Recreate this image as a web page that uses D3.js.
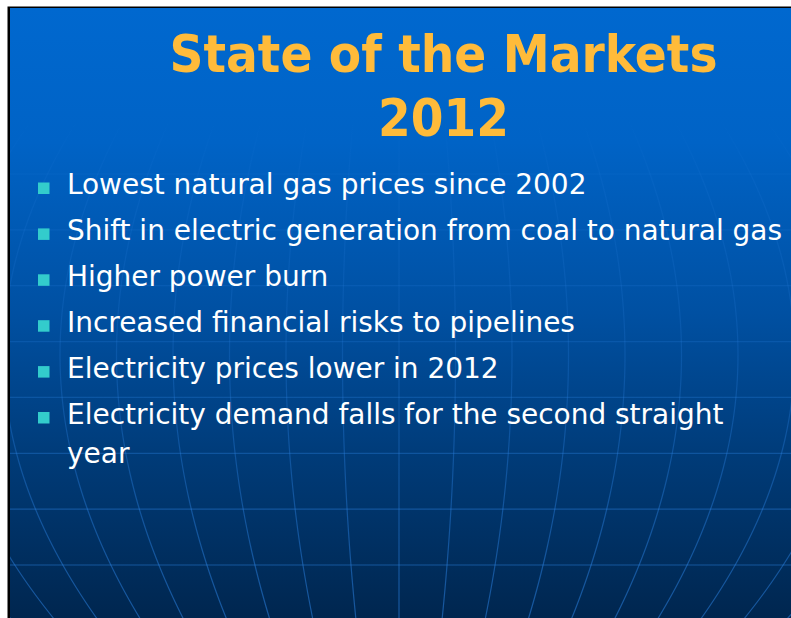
<!DOCTYPE html>
<html>
<head>
<meta charset="utf-8">
<script src="https://cdn.jsdelivr.net/npm/d3@7"></script>
<style>
  body { margin: 0; background: #fff; }
  svg { display: block; }
</style>
</head>
<body>
<div id="slide"></div>
<script>
// Slide text
const titleLines = ["State of the Markets", "2012"];
const bulletLines = [
  "Lowest natural gas prices since 2002",
  "Shift in electric generation from coal to natural gas",
  "Higher power burn",
  "Increased financial risks to pipelines",
  "Electricity prices lower in 2012",
  "Electricity demand falls for the second straight",
  "year"
];
// true = line starts a new bullet, false = wrapped continuation
const bulletStarts = [true, true, true, true, true, true, false];

// Background globe grid: meridian indices and horizontal rule rows
const meridians = d3.range(-9, 10);
const rules = d3.range(0, 8);

const width = 791, height = 618;
const slide = {x: 10, y: 8};

const svg = d3.select("#slide").append("svg")
    .attr("width", width)
    .attr("height", height);

const defs = svg.append("defs");

const bg = defs.append("linearGradient")
    .attr("id", "bg")
    .attr("gradientUnits", "userSpaceOnUse")
    .attr("x1", 0).attr("y1", slide.y).attr("x2", 0).attr("y2", height);
bg.selectAll("stop")
  .data([
    [0, "#0068cf"], [0.22, "#0063c6"], [0.5, "#0050a2"],
    [0.75, "#003a76"], [1, "#00264f"]
  ])
  .join("stop")
    .attr("offset", d => d[0])
    .attr("stop-color", d => d[1]);

const gridFade = defs.append("linearGradient")
    .attr("id", "gridFade")
    .attr("gradientUnits", "userSpaceOnUse")
    .attr("x1", 0).attr("y1", 120).attr("x2", 0).attr("y2", height);
gridFade.selectAll("stop")
  .data([[0, 0], [0.12, 0.12], [0.4, 0.2], [0.7, 0.38], [1, 0.55]])
  .join("stop")
    .attr("offset", d => d[0])
    .attr("stop-color", "#2a80e0")
    .attr("stop-opacity", d => d[1]);

defs.append("clipPath").attr("id", "slideClip")
  .append("rect")
    .attr("x", slide.x).attr("y", slide.y)
    .attr("width", width - slide.x).attr("height", height - slide.y);

// frame + background
svg.append("rect")
    .attr("x", 7.5).attr("y", 6.5)
    .attr("width", width).attr("height", height)
    .attr("fill", "#000");
svg.append("rect")
    .attr("x", slide.x).attr("y", slide.y)
    .attr("width", width - slide.x).attr("height", height - slide.y)
    .attr("fill", "url(#bg)");

const grid = svg.append("g").attr("clip-path", "url(#slideClip)");

// horizontal rules
const ruleY = d3.scaleLinear().domain([0, 7]).range([174, 565]);
grid.selectAll("line.rule")
  .data(rules)
  .join("line")
    .attr("class", "rule")
    .attr("x1", slide.x).attr("x2", width)
    .attr("y1", d => ruleY(d)).attr("y2", d => ruleY(d))
    .attr("stroke", "url(#gridFade)")
    .attr("stroke-width", 1.2);

// meridians bulging around y=355, converging toward the bottom
const cx = 399;
const meridianX = d3.scaleLinear().domain([0, 1]).range([0, 56.5]);
const squeeze = y => 1 - 3.4e-6 * (y - 355) * (y - 355);
const ys = d3.range(120, height + 8, 6);
const meridianLine = d3.line()
    .x(d => d.x).y(d => d.y)
    .curve(d3.curveBasis);

grid.selectAll("path.meridian")
  .data(meridians)
  .join("path")
    .attr("class", "meridian")
    .attr("d", k => meridianLine(ys.map(y => ({x: cx + meridianX(k) * squeeze(y), y}))))
    .attr("fill", "none")
    .attr("stroke", "url(#gridFade)")
    .attr("stroke-width", 1.2);

// title
const titleY = d3.scaleLinear().domain([0, 1]).range([71.5, 135.5]);
const titleWidths = [548, 131];
svg.selectAll("text.title")
  .data(titleLines)
  .join("text")
    .attr("class", "title")
    .attr("x", 443.5)
    .attr("y", (d, i) => titleY(i))
    .attr("text-anchor", "middle")
    .attr("font-family", "'DejaVu Sans Condensed', 'DejaVu Sans', sans-serif")
    .attr("font-weight", "bold")
    .attr("font-size", 52)
    .attr("fill", "#ffbb3a")
    .text(d => d)
    .attr("textLength", (d, i) => titleWidths[i])
    .attr("lengthAdjust", "spacingAndGlyphs");

// bullets
const itemIndex = [];
let item = -1;
bulletStarts.forEach(s => { if (s) item++; itemIndex.push(item); });
const itemY = d3.scaleLinear().domain([0, 5]).range([194, 423.5]);
const lineY = (d, i) => bulletStarts[i] ? itemY(itemIndex[i]) : itemY(itemIndex[i]) + 39;

svg.selectAll("rect.bullet")
  .data(bulletLines.filter((d, i) => bulletStarts[i]))
  .join("rect")
    .attr("class", "bullet")
    .attr("x", 38)
    .attr("y", (d, i) => itemY(i) - 11.5)
    .attr("width", 11.5).attr("height", 11.5)
    .attr("fill", "#33cccc");

const texts = svg.selectAll("text.item")
  .data(bulletLines)
  .join("text")
    .attr("class", "item")
    .attr("x", 67)
    .attr("y", lineY)
    .attr("font-family", "'DejaVu Sans Condensed', 'DejaVu Sans', sans-serif")
    .attr("font-size", 28.5)
    .attr("fill", "#ffffff")
    .text(d => d);

// squeeze widths to the Tahoma-like metrics of the original
const natural = texts.nodes().map(n => n.getComputedTextLength());
const factor = 715 / natural[1];
texts
    .attr("textLength", (d, i) => natural[i] * factor)
    .attr("lengthAdjust", "spacingAndGlyphs");
</script>
</body>
</html>
